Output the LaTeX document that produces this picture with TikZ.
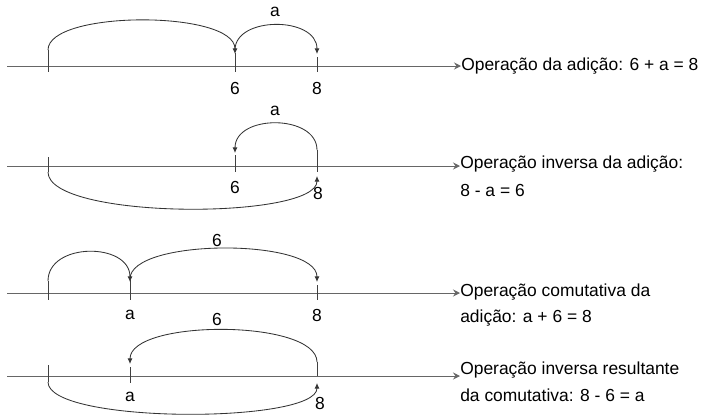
\documentclass[tikz,border=0pt]{standalone}
\usepackage{fontspec}
\setmainfont{Liberation Sans}
\usetikzlibrary{arrows.meta}
\tikzset{
  eixo/.style={draw=black!60, line width=0.6pt, -{Stealth[length=5pt,width=5pt,inset=1.8pt]}},
  marca/.style={draw=black!75, line width=0.6pt},
  salto/.style={draw=black!80, line width=0.6pt, -{Latex[length=4pt,width=3.5pt]}},
  rotulo/.style={inner sep=0pt, font=\fontsize{12.4}{14}\selectfont},
  texto/.style={inner sep=0pt, anchor=west, font=\fontsize{12.4}{14}\selectfont}
}

\begin{document}
\begin{tikzpicture}[x=0.025cm,y=-0.025cm]
\useasboundingbox (0,0) rectangle (712,416);

% adicao
\coordinate (i1) at (7,66);
\node[texto] (t1) at (461,66) {Operação da adição: 6 + a = 8};
\draw[eixo] (i1) -- (i1 -| t1.west);
\draw[marca] (48,50) -- (48,72);
\draw[marca] (235,53) -- (235,72);
\draw[marca] (317,57) -- (317,72);
\draw[salto] (48,50) .. controls (48,10) and (235,10) .. (235,54);
\draw[salto] (235,50) .. controls (235,16) and (317,16) .. (317,54);
\node[rotulo] (a1) at (275,12) {a};
\node[rotulo] (n6a) at (235,88) {6};
\node[rotulo] (n8a) at (317,88) {8};

% inversa
\coordinate (i2) at (7,166);
\node[texto] (t2) at (460,164) {Operação inversa da adição:};
\node[texto] (t2b) at (460,190) {8 - a = 6};
\draw[eixo] (i2) -- (i2 -| t2.west);
\draw[marca] (48,157) -- (48,172);
\draw[marca] (235,155) -- (235,172);
\draw[marca] (317,150) -- (317,172);
\draw[salto] (317,150) .. controls (317,114) and (235,114) .. (235,153);
\draw[salto] (48,172) .. controls (48,220) and (317,220) .. (317,176);
\node[rotulo] (a2) at (275,111) {a};
\node[rotulo] (n6b) at (235,187) {6};
\node[rotulo] (n8b) at (318,193) {8};

% comutativa
\coordinate (i3) at (7,293);
\node[texto] (t3) at (460,292) {Operação comutativa da};
\node[texto] (t3b) at (460,318) {adição: a + 6 = 8};
\draw[eixo] (i3) -- (i3 -| t3.west);
\draw[marca] (48,281) -- (48,300);
\draw[marca] (130,280) -- (130,300);
\draw[marca] (317,285) -- (317,300);
\draw[salto] (48,281) .. controls (48,242) and (130,242) .. (130,282);
\draw[salto] (130,279) .. controls (130,238) and (317,238) .. (317,282);
\node[rotulo] (n6c) at (217,240) {6};
\node[rotulo] (a3) at (130,315) {a};
\node[rotulo] (n8c) at (317,315) {8};

% inversa resultante
\coordinate (i4) at (7,376);
\node[texto] (t4) at (460,370) {Operação inversa resultante};
\node[texto] (t4b) at (460,395) {da comutativa: 8 - 6 = a};
\draw[eixo] (i4) -- (i4 -| t4.west);
\draw[marca] (48,365) -- (48,382);
\draw[marca] (130,367) -- (130,383);
\draw[marca] (317,362) -- (317,376);
\draw[salto] (317,362) .. controls (317,319) and (130,319) .. (130,364);
\draw[salto] (48,382) .. controls (48,424) and (317,424) .. (317,383);
\node[rotulo] (n6d) at (217,319) {6};
\node[rotulo] (a4) at (130,397) {a};
\node[rotulo] (n8d) at (320,403) {8};
\end{tikzpicture}
\end{document}
